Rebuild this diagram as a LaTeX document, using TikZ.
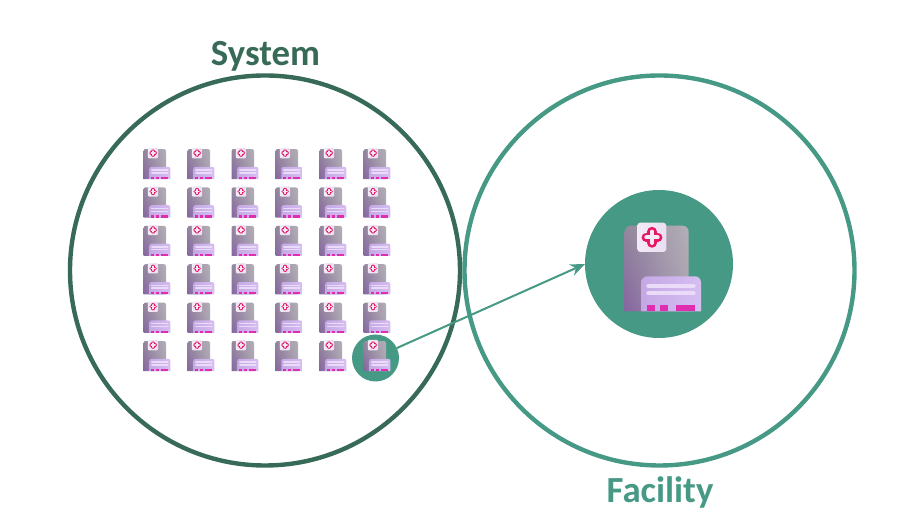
\documentclass[tikz,border=0pt]{standalone}
\usepackage{fontspec}
\setmainfont{Carlito}
\usetikzlibrary{arrows.meta,shadings}
\definecolor{sysgreen}{HTML}{386A58}
\definecolor{facgreen}{HTML}{469985}
\definecolor{pinkred}{HTML}{E8175F}
\definecolor{magbar}{HTML}{E02DB0}
\definecolor{towerUL}{HTML}{94889C}
\definecolor{towerUR}{HTML}{B4AFB8}
\definecolor{towerLL}{HTML}{8565A0}
\definecolor{towerLR}{HTML}{A9A3AE}
\definecolor{badgeA}{HTML}{F3EAF8}
\definecolor{badgeB}{HTML}{EADFF2}
\definecolor{annexA}{HTML}{C4A8E4}
\definecolor{annexB}{HTML}{D6BEF2}
\definecolor{annexLine}{HTML}{EADCF8}
\tikzset{
  x=0.75pt,y=-0.75pt,
  ringnode/.style={circle,draw,line width=3.3pt,minimum size=#1*0.75pt,inner sep=0pt,outer sep=0pt},
  dotnode/.style={circle,fill=facgreen,minimum size=#1*0.75pt,inner sep=0pt,outer sep=0pt},
  titlelabel/.style={font=\bfseries\fontsize{27.6}{32}\selectfont,inner sep=0pt},
  link/.style={facgreen,line width=1.5pt,-{Stealth[length=11pt,width=9pt]}},
  pics/hospital/.style={code={
    \pgfmathsetlengthmacro\rcA{#1*6pt}
    \pgfmathsetlengthmacro\rcB{#1*3pt}
    \pgfmathsetlengthmacro\lwOuter{#1*9.5pt}
    \pgfmathsetlengthmacro\lwInner{#1*4pt}
    \pgfmathsetlengthmacro\lwBar{#1*4pt}
    \shade[shading=bilinear interpolation,upper left=towerUL,upper right=towerUR,lower left=towerLL,lower right=towerLR]
      (-34.3,47.4) [rounded corners=\rcA] -- (-34.3,-38.3) -- (29.7,-38.3) [sharp corners] -- (29.7,47.4) -- cycle;
    \shade[rounded corners=\rcB,left color=badgeA,right color=badgeB]
      (-21.7,-41.3) rectangle (7.3,-12);
    \shade[left color=annexA,right color=annexB]
      (-17.7,47.4) [rounded corners=\rcA] -- (-17.7,12.3) -- (42,12.3) [sharp corners] -- (42,47.4) -- cycle;
    \draw[annexLine,line width=\lwBar,line cap=round] (-10.7,21.7) -- (34.7,21.7);
    \draw[annexLine,line width=\lwBar,line cap=round] (-10.7,29.3) -- (34.7,29.3);
    \fill[magbar] (-11.7,41) rectangle (-3.7,47.4);
    \fill[magbar] (1,41) rectangle (8.7,47.4);
    \fill[magbar] (16.7,41) rectangle (35.7,47.4);
    \draw[pinkred,line width=\lwOuter,line cap=round] (-12.7,-26.7) -- (-1.3,-26.7) (-7,-32.4) -- (-7,-21);
    \draw[badgeA,line width=\lwInner,line cap=round] (-12.7,-26.7) -- (-1.3,-26.7) (-7,-32.4) -- (-7,-21);
  }},
}
\begin{document}
\begin{tikzpicture}
\useasboundingbox (0,0) rectangle (922,530);
\node[ringnode=390,draw=sysgreen] (system) at (265,270.5) {};
\node[ringnode=390,draw=facgreen] (facility) at (659.5,270.5) {};
\node[dotnode=47] (small) at (375.5,358) {};
\node[dotnode=148] (big) at (659,264) {};
\node[titlelabel,text=sysgreen] (systemlabel) at (265.5,56.5) {System};
\node[titlelabel,text=facgreen] (facilitylabel) at (660,492) {Facility};
\draw[link] (small.25) -- (big.west);
\pic at (659,264) {hospital=0.75};
\foreach \c in {0,...,5}{
  \foreach \yy in {149,187.4,225.8,264.2,302.6,341}{
    \pic[scale=0.352] at ({143.5+44*\c+12.1},{\yy+13.5}) {hospital=0.264};
  }
}
\end{tikzpicture}
\end{document}
